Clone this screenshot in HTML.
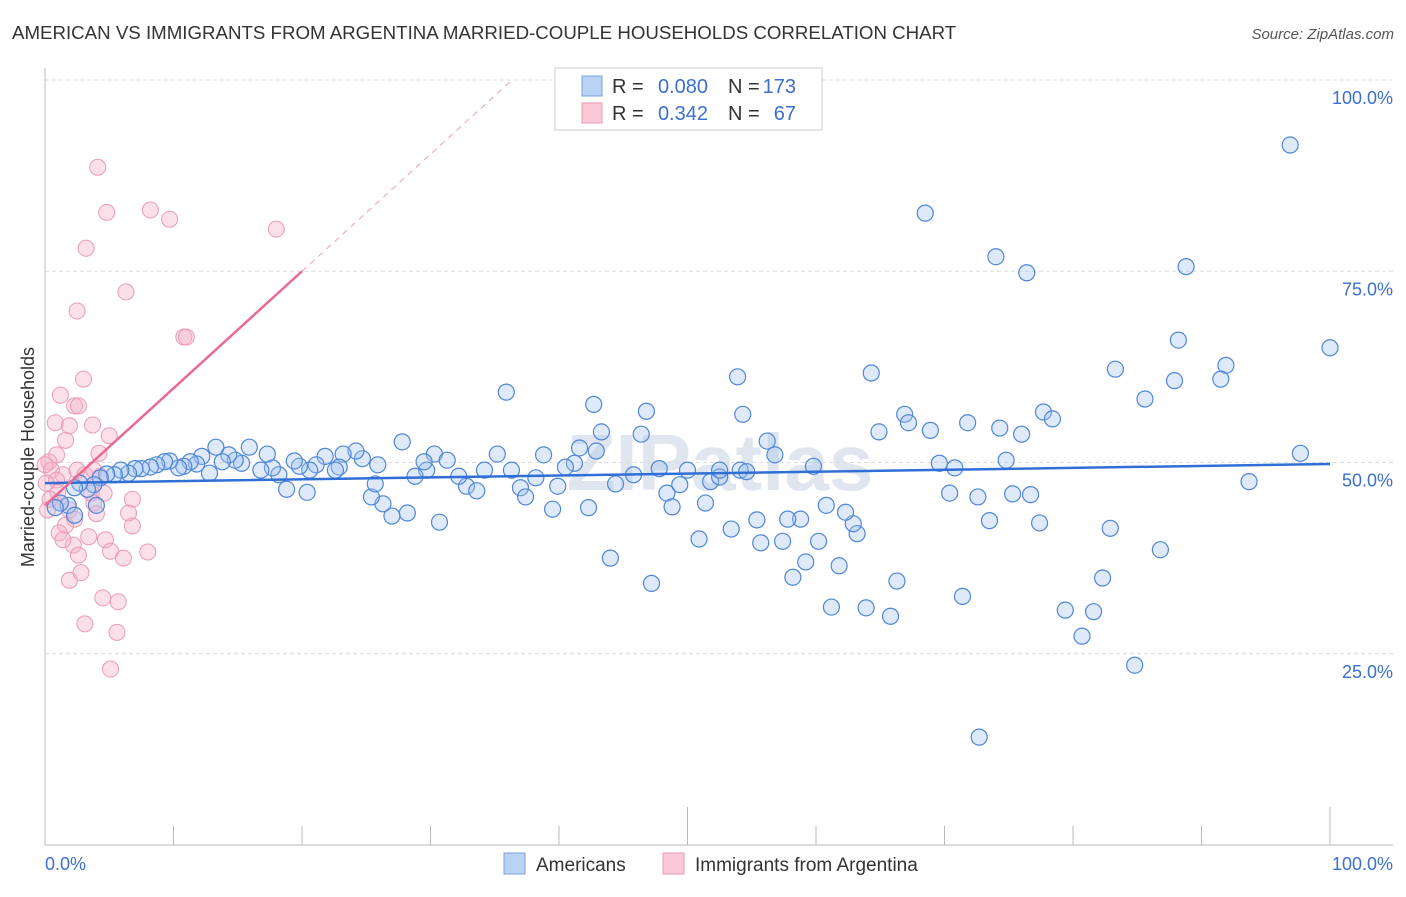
<!DOCTYPE html>
<html><head><meta charset="utf-8"><style>
body{margin:0;background:#fff;font-family:"Liberation Sans",sans-serif}
svg text{font-family:"Liberation Sans",sans-serif}
</style></head><body>
<svg id="c" width="1406" height="892" viewBox="0 0 1406 892" xmlns="http://www.w3.org/2000/svg">
<text x="12" y="39" font-size="18.7" fill="#333">AMERICAN VS IMMIGRANTS FROM ARGENTINA MARRIED-COUPLE HOUSEHOLDS CORRELATION CHART</text>
<text x="1394" y="39" font-size="15" fill="#555" font-style="italic" text-anchor="end">Source: ZipAtlas.com</text>
<text x="720" y="490" font-size="80" fill="#dfe6ef" text-anchor="middle" font-weight="bold">ZIPatlas</text>
<g id="grid"></g><g id="axes"></g><g id="pts"></g><g id="trend"></g>
<text transform="translate(34,457) rotate(-90)" font-size="18" fill="#333" text-anchor="middle">Married-couple Households</text>
<text x="45" y="870" font-size="18" fill="#3b6fd0">0.0%</text>
<text x="1393" y="870" font-size="18" fill="#3b6fd0" text-anchor="end">100.0%</text>
<g>
<rect x="555" y="68" width="267" height="62" fill="#fff" stroke="#ccc"/>
<rect x="582" y="76" width="20" height="20" fill="#b9d3f5" stroke="#7aa3e0"/>
<rect x="582" y="103" width="20" height="20" fill="#f9c9d8" stroke="#ec9ab5"/>
<text x="612" y="93" font-size="20" fill="#333">R =</text>
<text x="708" y="93" font-size="20" fill="#3b6fd0" text-anchor="end">0.080</text>
<text x="728" y="93" font-size="20" fill="#333">N =</text>
<text x="796" y="93" font-size="20" fill="#3b6fd0" text-anchor="end">173</text>
<text x="612" y="120" font-size="20" fill="#333">R =</text>
<text x="708" y="120" font-size="20" fill="#3b6fd0" text-anchor="end">0.342</text>
<text x="728" y="120" font-size="20" fill="#333">N =</text>
<text x="796" y="120" font-size="20" fill="#3b6fd0" text-anchor="end">67</text>
</g>
<g>
<rect x="504" y="853" width="21" height="21" fill="#b9d3f5" stroke="#7aa3e0"/>
<text x="536" y="871" font-size="19" fill="#333">Americans</text>
<rect x="663" y="853" width="21" height="21" fill="#f9c9d8" stroke="#ec9ab5"/>
<text x="695" y="871" font-size="19" fill="#333">Immigrants from Argentina</text>
</g>
</svg>
<script>
const yTicks=[25,50,75,100];
const yTickLabels=["25.0%","50.0%","75.0%","100.0%"];
const xTicks=[0,10,20,30,40,50,60,70,80,90,100];
const blueX=[96.9,68.5,74.0,76.4,88.8,100,88.2,83.3,91.9,87.9,91.5,85.6,97.7,93.7,53.9,64.3,35.9,42.7,46.8,54.3,66.9,67.2,68.9,71.8,74.3,76.0,77.7,78.4,64.9,56.2,56.8,54.1,59.8,69.6,70.8,74.8,70.4,72.6,75.3,76.7,73.5,77.4,82.9,86.8,82.3,79.4,81.6,80.7,84.8,72.7,71.4,65.8,63.9,61.2,66.3,61.8,59.2,58.2,60.2,63.2,62.9,62.3,60.8,58.8,57.8,57.4,55.7,55.4,53.4,50.9,51.4,48.4,48.8,49.4,50.0,51.8,52.5,52.5,54.6,45.8,47.8,44.4,41.6,42.9,43.3,46.4,44.0,47.2,42.3,39.5,37.0,37.4,38.2,39.9,36.3,38.8,41.2,40.5,35.2,34.2,32.8,33.6,32.2,30.3,31.3,29.7,29.5,28.8,27.8,28.2,27.0,26.3,25.4,25.7,25.9,24.7,24.2,23.2,22.9,22.6,21.8,21.1,20.6,20.4,19.8,19.4,18.8,18.2,17.7,17.3,16.8,15.9,15.3,14.8,14.3,13.8,13.3,12.8,12.2,11.8,11.3,10.8,10.4,9.7,9.3,8.7,8.2,7.5,7.0,6.5,5.9,5.4,4.8,4.3,3.8,3.3,2.7,2.3,1.8,1.2,0.8,2.3,4.0,30.7];
const blueY=[91.5,82.6,76.9,74.8,75.6,65.0,66.0,62.2,62.7,60.7,60.9,58.3,51.2,47.5,61.2,61.7,59.2,57.6,56.7,56.3,56.3,55.2,54.2,55.2,54.5,53.7,56.6,55.7,54.0,52.8,51.0,49.0,49.5,49.9,49.3,50.3,46.0,45.5,45.9,45.8,42.4,42.1,41.4,38.6,34.9,30.7,30.5,27.3,23.5,14.1,32.5,29.9,31.0,31.1,34.5,36.5,37.0,35.0,39.7,40.7,42.0,43.5,44.4,42.6,42.6,39.7,39.5,42.5,41.3,40.0,44.7,46.0,44.2,47.1,49.0,47.5,48.1,49.0,48.8,48.4,49.2,47.2,51.9,51.5,54.0,53.7,37.5,34.2,44.1,43.9,46.7,45.5,48.0,46.9,49.0,51.0,49.9,49.4,51.1,49.0,46.9,46.3,48.2,51.1,50.3,49.0,50.1,48.2,52.7,43.4,43.0,44.6,45.5,47.2,49.7,50.5,51.5,51.1,49.4,49.0,50.8,49.7,49.0,46.1,49.5,50.2,46.5,48.4,49.3,51.1,49.0,52.0,49.9,50.3,51.0,50.1,52.0,48.6,50.8,49.8,50.1,49.5,49.3,50.2,50.1,49.7,49.4,49.2,49.2,48.6,49.0,48.4,48.5,48.0,47.1,46.5,47.3,46.7,44.4,44.7,44.1,43.1,44.4,42.2];
const pinkX=[4.1,4.8,8.2,9.7,18.0,3.2,6.3,2.5,10.8,3.0,1.2,2.3,2.6,1.6,0.8,1.9,3.7,5.0,4.2,0.9,0.3,0.5,1.4,2.5,3.1,4.3,0.9,1.0,3.6,4.6,0.1,0.4,1.2,1.9,3.8,6.8,2.3,4.0,6.5,1.6,6.8,1.1,2.2,1.4,3.4,4.7,2.6,5.1,8.0,6.1,1.9,2.8,4.5,5.7,3.1,5.6,5.1,0.2,0,3.8,11.0];
const pinkY=[88.6,82.7,83.0,81.8,80.5,78.0,72.3,69.8,66.4,60.9,58.8,57.4,57.4,52.9,55.2,54.8,54.9,53.5,51.2,51.0,50.1,49.0,48.4,49.0,48.4,48.2,47.7,46.1,46.0,46.0,47.3,45.2,44.7,43.8,44.7,45.2,42.6,43.3,43.4,41.8,41.7,40.8,39.2,39.9,40.3,39.9,37.9,38.4,38.3,37.5,34.6,35.6,32.3,31.8,28.9,27.8,23.0,43.8,49.7,49.0,66.4];
const blueTrend=[47.3,49.8];
const pinkTrend=[44.4,1.53];
const NS='http://www.w3.org/2000/svg';
const X=v=>45+v*12.85, Y=v=>845-v*7.65;
function mk(t,a,p){const e=document.createElementNS(NS,t);for(const k in a)e.setAttribute(k,a[k]);document.getElementById(p).appendChild(e);return e;}
yTicks.forEach((t,i)=>{
 const g=mk('line',{x1:45,x2:1393,y1:Y(t),y2:Y(t),stroke:'#dcdcdc','stroke-dasharray':'4,3'},'grid');
 
 
 const l=mk('text',{x:1393,y:Y(t)+24,'font-size':18,fill:'#3b6fd0','text-anchor':'end'},'grid');
 l.textContent=yTickLabels[i];
 
 
});
const ax=mk('path',{d:'M45 68V845H1393',fill:'none',stroke:'#bbb'},'axes');


xTicks.forEach((t,i)=>{
 const tk=mk('line',{x1:X(t),x2:X(t),y1:(t%50===0)?807:826,y2:845,stroke:'#bbb'},'axes');
 
 
});
pinkX.forEach((v,i)=>{
 const c=mk('circle',{cx:X(v),cy:Y(pinkY[i]),r:8,fill:'rgba(246,177,201,0.4)',stroke:'#ec9ab5','stroke-width':1},'pts');
 
 
});
blueX.forEach((v,i)=>{
 const c=mk('circle',{cx:X(v),cy:Y(blueY[i]),r:8,fill:'rgba(160,195,240,0.35)',stroke:'#4f86d9','stroke-width':1.2},'pts');
 
 
});
const bt=mk('line',{x1:X(0),y1:Y(blueTrend[0]),x2:X(100),y2:Y(blueTrend[1]),stroke:'#2f6fd6','stroke-width':2.5},'trend');


const pe=(100-pinkTrend[0])/pinkTrend[1];
const pt=mk('line',{x1:X(0),y1:Y(pinkTrend[0]),x2:X(20),y2:Y(pinkTrend[0]+20*pinkTrend[1]),stroke:'#ea6a94','stroke-width':2.5},'trend');


const pd=mk('line',{x1:X(20),y1:Y(pinkTrend[0]+20*pinkTrend[1]),x2:X(pe),y2:Y(100),stroke:'#eaa0b8','stroke-width':1,'stroke-dasharray':'6,5'},'trend');


</script>
</body></html>
